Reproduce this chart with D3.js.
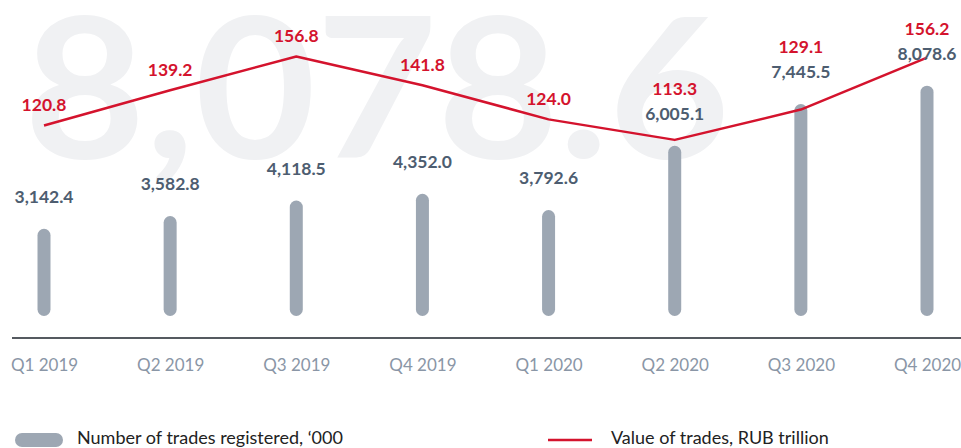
<!DOCTYPE html>
<html><head><meta charset="utf-8">
<script src="https://cdn.jsdelivr.net/npm/d3@7"></script>
<style>html,body{margin:0;padding:0;background:#fff;overflow:hidden}</style>
</head><body><svg id="c" width="961" height="448"></svg>
<script>
const categories = ["Q1 2019","Q2 2019","Q3 2019","Q4 2019","Q1 2020","Q2 2020","Q3 2020","Q4 2020"];
const tradesCount = [3142.4, 3582.8, 4118.5, 4352.0, 3792.6, 6005.1, 7445.5, 8078.6];
const tradesValue = [120.8, 139.2, 156.8, 141.8, 124.0, 113.3, 129.1, 156.2];
const highlightText = "8,078.6";
const legendLabels = ["Number of trades registered, \u2018000", "Value of trades, RUB trillion"];

const FONT = "Lato, 'Open Sans', sans-serif";
const svg = d3.select("#c");
const x = d3.scalePoint().domain(categories).range([44, 927]);
const y = d3.scaleLinear().domain([0, 9000]).range([320, 59]);
const y2 = d3.scaleLinear().domain([100, 160]).range([165.4, 50.3]);
const baseY = 316, axisY = 338;

// big background number
svg.append("text").attr("x", 24).attr("y", 158)
  .attr("font-family", FONT).attr("font-size", 196).attr("font-weight", 700)
  .attr("fill", "#f0f1f3").attr("textLength", 706).attr("lengthAdjust", "spacingAndGlyphs")
  .text(highlightText);

// bars
svg.append("g").selectAll("rect").data(tradesCount).join("rect")
  .attr("x", (d,i) => x(categories[i]) - 6.5).attr("width", 13)
  .attr("y", d => y(d)).attr("height", d => baseY - y(d))
  .attr("rx", 6.5).attr("fill", "#9da7b3");

// axis baseline
svg.append("line").attr("x1", 12).attr("x2", 961).attr("y1", axisY).attr("y2", axisY)
  .attr("stroke", "#555a60").attr("stroke-width", 2);

const ax = svg.append("g").attr("transform", `translate(0,${axisY})`)
  .call(d3.axisBottom(x).tickSize(0).tickPadding(21));
ax.select(".domain").remove();
ax.selectAll("text").attr("font-family", FONT).attr("font-size", 17).attr("fill", "#8a96a6");

// line
const line = d3.line().x((d,i) => x(categories[i])).y(d => y2(d));
svg.append("path").datum(tradesValue).attr("d", line)
  .attr("fill", "none").attr("stroke", "#d4132d").attr("stroke-width", 2.5)
  .attr("stroke-linejoin", "round");

// bar labels
const fmtC = d3.format(",.1f"), fmtV = d3.format(".1f");
const barLabY = d => y(d) - 26;
svg.append("g").selectAll("text").data(tradesCount).join("text")
  .attr("x", (d,i) => x(categories[i])).attr("y", d => barLabY(d))
  .attr("text-anchor", "middle").attr("font-family", FONT).attr("font-size", 17.5)
  .attr("font-weight", 700).attr("fill", "#4d5d70").text(d => fmtC(d));

// line labels
svg.append("g").selectAll("text").data(tradesValue).join("text")
  .attr("x", (d,i) => x(categories[i]))
  .attr("y", (d,i) => Math.min(y2(d) - 14, barLabY(tradesCount[i]) - 25))
  .attr("text-anchor", "middle").attr("font-family", FONT).attr("font-size", 17.5)
  .attr("font-weight", 700).attr("fill", "#d4132d").text(d => fmtV(d));

// legend
const lg = svg.append("g");
lg.append("rect").attr("x", 15).attr("y", 433).attr("width", 48).attr("height", 14)
  .attr("rx", 7).attr("fill", "#9da7b3");
lg.append("text").attr("x", 77).attr("y", 444).attr("font-family", FONT).attr("font-size", 18)
  .attr("fill", "#222").text(legendLabels[0]);
lg.append("line").attr("x1", 548).attr("x2", 592).attr("y1", 440).attr("y2", 440)
  .attr("stroke", "#d4132d").attr("stroke-width", 2.5);
lg.append("text").attr("x", 611).attr("y", 444).attr("font-family", FONT).attr("font-size", 18)
  .attr("fill", "#222").text(legendLabels[1]);
</script></body></html>
